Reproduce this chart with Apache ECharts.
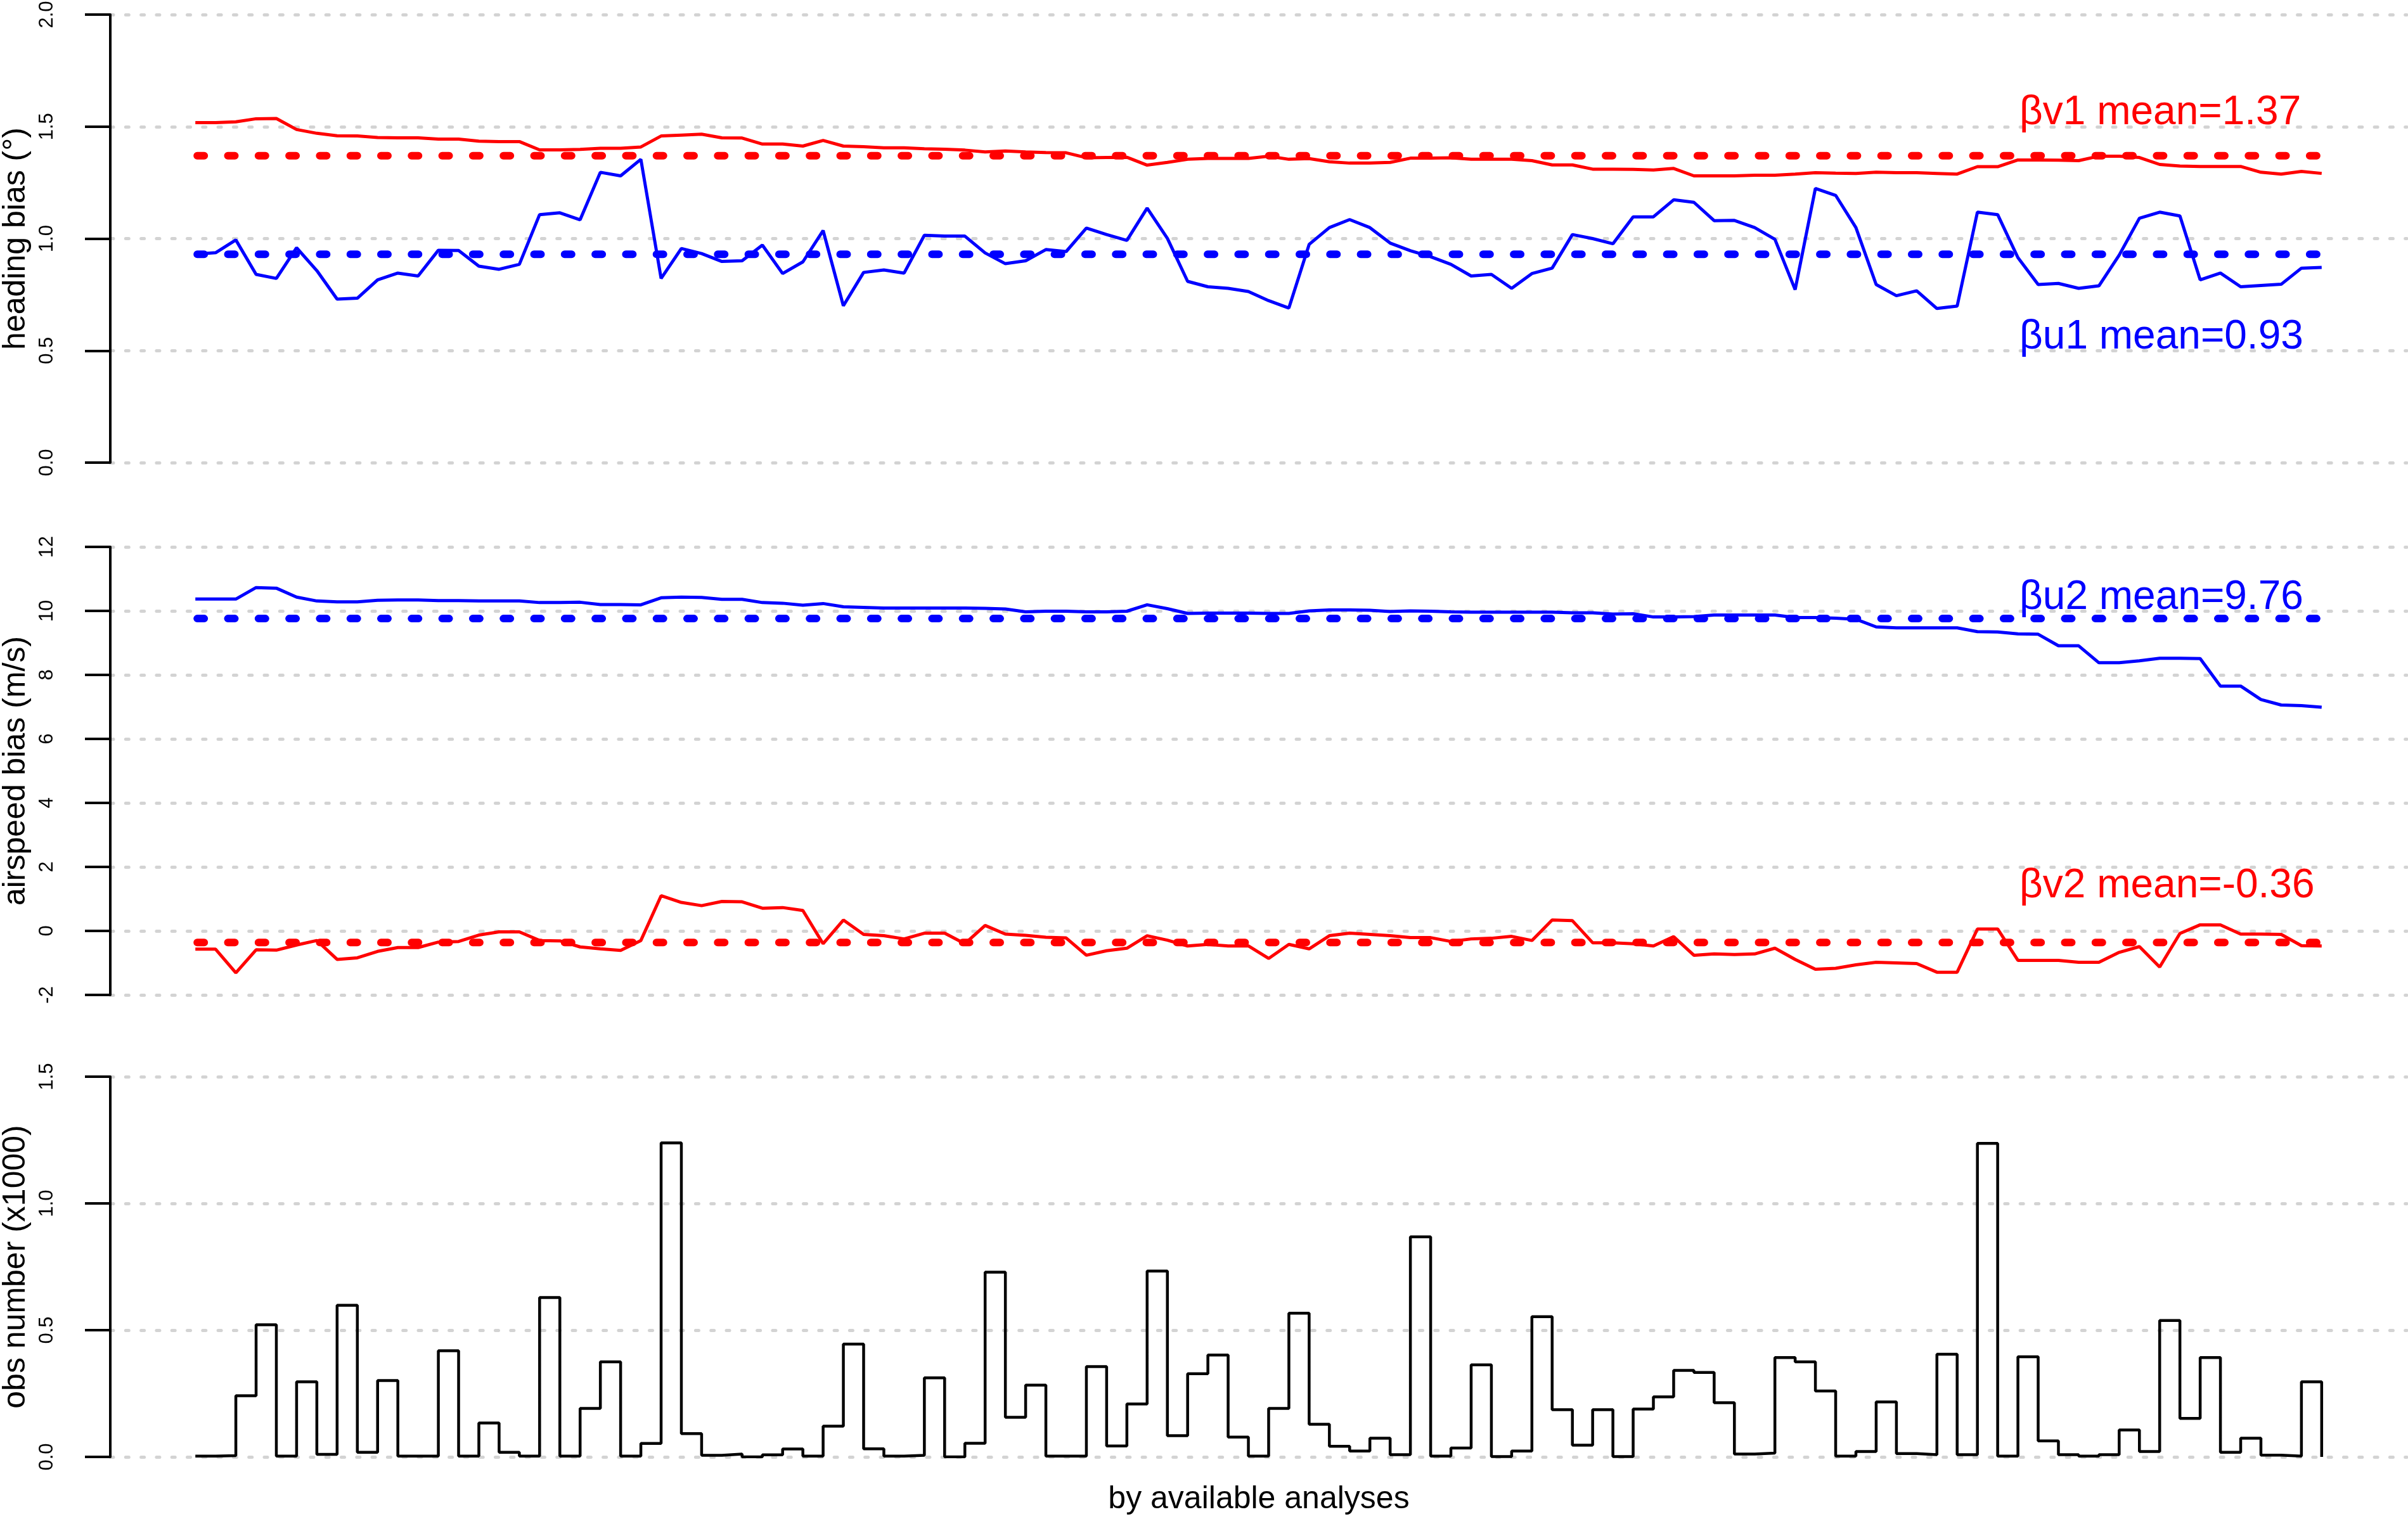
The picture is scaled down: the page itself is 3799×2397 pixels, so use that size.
<!DOCTYPE html>
<html lang="en">
<head>
  <meta charset="UTF-8">
  <title>bias by available analyses</title>
  <script src="https://cdn.jsdelivr.net/npm/echarts@6/dist/echarts.min.js"></script>
  <style>html, body { margin: 0; padding: 0; background: #fff; }</style>
</head>
<body>
<div id="chart" style="width: 3799px; height: 2397px"></div>
<script>

  // heading bias (deg), one value per analysis
  const headingV1 = [
    1.518, 1.518, 1.521, 1.535, 1.536, 1.487, 1.470, 1.459, 1.458, 1.451,
    1.450, 1.450, 1.444, 1.444, 1.435, 1.433, 1.433, 1.396, 1.396, 1.398,
    1.403, 1.403, 1.409, 1.458, 1.462, 1.466, 1.450, 1.449, 1.422, 1.422,
    1.413, 1.438, 1.413, 1.410, 1.405, 1.405, 1.401, 1.399, 1.395, 1.387,
    1.391, 1.387, 1.384, 1.383, 1.361, 1.362, 1.363, 1.328, 1.340, 1.354,
    1.358, 1.358, 1.358, 1.368, 1.354, 1.357, 1.343, 1.337, 1.337, 1.340,
    1.359, 1.359, 1.361, 1.354, 1.354, 1.354, 1.348, 1.329, 1.329, 1.310,
    1.310, 1.309, 1.306, 1.313, 1.280, 1.280, 1.280, 1.283, 1.283, 1.288,
    1.294, 1.292, 1.291, 1.296, 1.294, 1.294, 1.291, 1.288, 1.321, 1.321,
    1.351, 1.351, 1.350, 1.348, 1.368, 1.368, 1.362, 1.331, 1.324, 1.322,
    1.322, 1.322, 1.296, 1.288, 1.300, 1.291
  ];
  const headingU1 = [
    0.931, 0.937, 0.994, 0.840, 0.822, 0.959, 0.857, 0.730, 0.734, 0.816,
    0.846, 0.833, 0.948, 0.947, 0.877, 0.863, 0.885, 1.107, 1.115, 1.084,
    1.296, 1.280, 1.354, 0.822, 0.956, 0.933, 0.898, 0.901, 0.971, 0.844,
    0.896, 1.036, 0.700, 0.849, 0.860, 0.846, 1.015, 1.011, 1.011, 0.936,
    0.888, 0.901, 0.951, 0.942, 1.047, 1.018, 0.992, 1.136, 1.001, 0.809,
    0.785, 0.778, 0.764, 0.723, 0.690, 0.974, 1.049, 1.085, 1.049, 0.980,
    0.946, 0.919, 0.885, 0.833, 0.840, 0.778, 0.844, 0.868, 1.018, 1.000,
    0.977, 1.097, 1.097, 1.173, 1.162, 1.080, 1.081, 1.049, 0.997, 0.772,
    1.224, 1.193, 1.049, 0.795, 0.745, 0.767, 0.688, 0.699, 1.118, 1.107,
    0.915, 0.795, 0.800, 0.778, 0.789, 0.926, 1.091, 1.118, 1.101, 0.816,
    0.846, 0.785, 0.791, 0.796, 0.868, 0.871
  ];

  // airspeed bias (m/s)
  const airspeedU2 = [
    10.37, 10.37, 10.37, 10.73, 10.71, 10.43, 10.31, 10.28, 10.28, 10.33,
    10.34, 10.34, 10.32, 10.32, 10.31, 10.31, 10.31, 10.26, 10.26, 10.27,
    10.20, 10.20, 10.19, 10.41, 10.43, 10.42, 10.36, 10.36, 10.26, 10.24,
    10.18, 10.23, 10.13, 10.11, 10.09, 10.09, 10.09, 10.09, 10.09, 10.08,
    10.06, 9.97, 9.99, 9.99, 9.97, 9.97, 9.99, 10.19, 10.07, 9.92,
    9.93, 9.93, 9.93, 9.92, 9.92, 10.00, 10.03, 10.03, 10.02, 9.98,
    10.00, 9.99, 9.97, 9.96, 9.96, 9.96, 9.96, 9.96, 9.94, 9.94,
    9.90, 9.91, 9.81, 9.81, 9.82, 9.87, 9.87, 9.87, 9.87, 9.79,
    9.79, 9.77, 9.74, 9.50, 9.47, 9.47, 9.47, 9.47, 9.35, 9.34,
    9.28, 9.27, 8.91, 8.91, 8.38, 8.38, 8.44, 8.52, 8.52, 8.51,
    7.65, 7.65, 7.23, 7.06, 7.04, 6.99
  ];
  const airspeedV2 = [
    -0.57, -0.57, -1.31, -0.59, -0.60, -0.44, -0.30, -0.89, -0.84, -0.64,
    -0.52, -0.52, -0.35, -0.33, -0.13, -0.03, -0.03, -0.30, -0.31, -0.50,
    -0.56, -0.61, -0.30, 1.10, 0.89, 0.79, 0.92, 0.91, 0.71, 0.73,
    0.64, -0.40, 0.34, -0.11, -0.15, -0.25, -0.07, -0.07, -0.40, 0.17,
    -0.10, -0.14, -0.20, -0.22, -0.76, -0.62, -0.54, -0.15, -0.29, -0.47,
    -0.42, -0.47, -0.47, -0.86, -0.42, -0.56, -0.15, -0.07, -0.11, -0.15,
    -0.21, -0.21, -0.33, -0.25, -0.23, -0.17, -0.30, 0.34, 0.32, -0.37,
    -0.37, -0.40, -0.47, -0.18, -0.76, -0.72, -0.74, -0.72, -0.54, -0.89,
    -1.20, -1.17, -1.06, -0.98, -1.00, -1.02, -1.29, -1.29, 0.06, 0.06,
    -0.92, -0.92, -0.92, -0.98, -0.98, -0.67, -0.49, -1.13, -0.08, 0.19,
    0.19, -0.10, -0.10, -0.11, -0.46, -0.47
  ];

  // observations used per analysis (x1000)
  const obsNumber = [
    0.003, 0.005, 0.241, 0.521, 0.003, 0.296, 0.010, 0.598, 0.018, 0.301,
    0.003, 0.003, 0.419, 0.003, 0.134, 0.018, 0.003, 0.629, 0.003, 0.191,
    0.375, 0.003, 0.053, 1.239, 0.092, 0.006, 0.011, 0.000, 0.008, 0.031,
    0.003, 0.121, 0.445, 0.032, 0.003, 0.006, 0.312, 0.000, 0.054, 0.729,
    0.156, 0.283, 0.003, 0.003, 0.356, 0.043, 0.209, 0.733, 0.084, 0.328,
    0.402, 0.078, 0.003, 0.191, 0.567, 0.129, 0.042, 0.023, 0.074, 0.009,
    0.868, 0.003, 0.035, 0.363, 0.001, 0.023, 0.553, 0.186, 0.046, 0.186,
    0.001, 0.189, 0.237, 0.341, 0.333, 0.214, 0.011, 0.015, 0.392, 0.375,
    0.260, 0.003, 0.021, 0.217, 0.013, 0.009, 0.405, 0.009, 1.237, 0.003,
    0.395, 0.063, 0.009, 0.003, 0.009, 0.106, 0.021, 0.538, 0.152, 0.392,
    0.018, 0.074, 0.007, 0.003, 0.296, 0.000
  ];

  const meanV1 = 1.37;
  const meanU1 = 0.93;
  const meanU2 = 9.76;
  const meanV2 = -0.36;

  const FONT = '"Liberation Sans", Arial, sans-serif';
  const RED = '#ff0000';
  const BLUE = '#0000ff';

  const idx = headingV1.map((v, i) => i + 1);
  const first = idx[0];
  const last = idx[idx.length - 1];

  function pairs(values) {
    return values.map((v, i) => [idx[i], v]);
  }

  function xAxis(gridIndex) {
    // R style 4% padding on each side of the index range
    const pad = (last - first) * 0.04;
    return {type: 'value', gridIndex: gridIndex, min: first - pad, max: last + pad, show: false};
  }

  function yAxis(gridIndex, name, min, max, interval, digits) {
    return {
      type: 'value',
      gridIndex: gridIndex,
      min: min,
      max: max,
      interval: interval,
      name: name,
      nameLocation: 'middle',
      nameRotate: 90,
      nameGap: 124,
      nameTextStyle: {fontSize: 50, fontFamily: FONT, color: '#000'},
      axisLine: {show: true, onZero: false, lineStyle: {color: '#000', width: 4}},
      axisTick: {show: true, inside: false, length: 40, lineStyle: {color: '#000', width: 4}},
      axisLabel: {
        rotate: 90, margin: 84, fontSize: 31, fontFamily: FONT, color: '#000',
        formatter: v => v.toFixed(digits)
      },
      splitLine: {show: true, lineStyle: {color: '#d3d3d3', width: 5, type: [5, 19.3], cap: 'round'}}
    };
  }

  function solid(name, values, color, axis) {
    return {
      name: name, type: 'line', xAxisIndex: axis, yAxisIndex: axis,
      data: pairs(values), symbol: 'none', z: 2,
      lineStyle: {color: color, width: 5}
    };
  }

  function meanLine(name, mean, color, axis) {
    return {
      name: name, type: 'line', xAxisIndex: axis, yAxisIndex: axis,
      data: [[first, mean], [last, mean]], symbol: 'none', z: 3,
      lineStyle: {color: color, width: 12, type: [11, 37.3], cap: 'round', dashOffset: -3}
    };
  }

  function label(text, x, y, color, size, align) {
    return {
      type: 'text', x: x, y: y, z: 10,
      style: {text: text, fill: color, font: size + 'px ' + FONT, align: align || 'left', verticalAlign: 'middle'}
    };
  }

  const chart = echarts.init(document.getElementById('chart'), null, {renderer: 'canvas'});
  chart.setOption({
    animation: false,
    backgroundColor: '#ffffff',
    grid: [
      {left: 174, right: 2, top: 23, height: 707, outerBoundsMode: 'none'},
      {left: 174, right: 2, top: 863, height: 707, outerBoundsMode: 'none'},
      {left: 174, right: 2, top: 1699, height: 600, outerBoundsMode: 'none'}
    ],
    xAxis: [xAxis(0), xAxis(1), xAxis(2)],
    yAxis: [
      yAxis(0, 'heading bias (°)', 0, 2, 0.5, 1),
      yAxis(1, 'airspeed bias (m/s)', -2, 12, 2, 0),
      yAxis(2, 'obs number (x1000)', 0, 1.5, 0.5, 1)
    ],
    series: [
      solid('βv1', headingV1, RED, 0),
      solid('βu1', headingU1, BLUE, 0),
      meanLine('βv1 mean', meanV1, RED, 0),
      meanLine('βu1 mean', meanU1, BLUE, 0),
      solid('βu2', airspeedU2, BLUE, 1),
      solid('βv2', airspeedV2, RED, 1),
      meanLine('βu2 mean', meanU2, BLUE, 1),
      meanLine('βv2 mean', meanV2, RED, 1),
      {
        name: 'obs', type: 'line', xAxisIndex: 2, yAxisIndex: 2,
        data: pairs(obsNumber), step: 'end', symbol: 'none',
        lineStyle: {color: '#000', width: 4.5}
      }
    ],
    graphic: [
      label('βv1 mean=' + meanV1.toFixed(2), 3186, 178, RED, 64),
      label('βu1 mean=' + meanU1.toFixed(2), 3186, 532, BLUE, 64),
      label('βu2 mean=' + meanU2.toFixed(2), 3186, 943, BLUE, 64),
      label('βv2 mean=' + meanV2.toFixed(2), 3186, 1398, RED, 64),
      label('by available analyses', 1986, 2366, '#000', 50, 'center')
    ]
  });
</script>
</body>
</html>
